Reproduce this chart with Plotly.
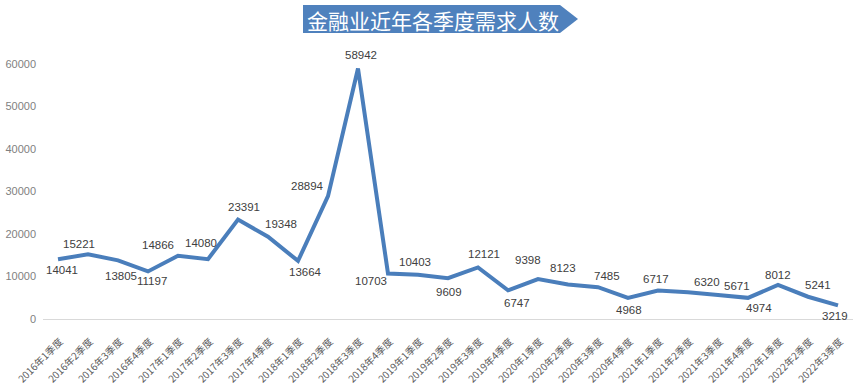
import plotly.graph_objects as go

# ---- data ----
quarters = [
    "2016年1季度", "2016年2季度", "2016年3季度", "2016年4季度",
    "2017年1季度", "2017年2季度", "2017年3季度", "2017年4季度",
    "2018年1季度", "2018年2季度", "2018年3季度", "2018年4季度",
    "2019年1季度", "2019年2季度", "2019年3季度", "2019年4季度",
    "2020年1季度", "2020年2季度", "2020年3季度", "2020年4季度",
    "2021年1季度", "2021年2季度", "2021年3季度", "2021年4季度",
    "2022年1季度", "2022年2季度", "2022年3季度",
]
demand = [
    14041, 15221, 13805, 11197,
    14866, 14080, 23391, 19348,
    13664, 28894, 58942, 10703,
    10403, 9609, 12121, 6747,
    9398, 8123, 7485, 4968,
    6717, 6320, 5671, 4974,
    8012, 5241, 3219,
]
y_ticks = [0, 10000, 20000, 30000, 40000, 50000, 60000]
y_tick_labels = ["0", "10000", "20000", "30000", "40000", "50000", "60000"]
title_text = "金融业近年各季度需求人数"

# ---- label offsets (pixels, dx right, dy down) ----
label_dx = [4, -9, 3, 4, -20, -7, 6, 13, 7, -21, 3, -17, -3, 1, 6, 9,
            -10, -5, 9, 1, -2, 19, 19, 11, 0, 10, -3]
label_dy = [11, -10, 16, 10, -11, -16, -13, -13, 11, -10, -14, 7, -13, 14, -13, 13,
            -19, -16, -11, 12, -11, -10, -9, 10, -10, -12, 11]

W, H = 858, 391
ML, MR, MT, MB = 43, 5, 64, 72
PW, PH = W - ML - MR, H - MT - MB

def px(x):
    return (x - ML) / PW

def py(y):
    return (H - MB - y) / PH

LINE_COLOR = "#4a7ebb"

fig = go.Figure()
fig.add_trace(go.Scatter(
    x=quarters, y=demand, mode="lines",
    line=dict(color=LINE_COLOR, width=4),
    hoverinfo="x+y", showlegend=False, cliponaxis=False,
))

for q, v, dx, dy in zip(quarters, demand, label_dx, label_dy):
    fig.add_annotation(
        x=q, y=v, text=str(v), showarrow=False,
        xshift=dx, yshift=-dy,
        font=dict(family="Liberation Sans, Arial", size=11.5, color="#404040"),
    )

# title banner (arrow-shaped box)
L, R, TIP, T, B = 303, 560, 578, 5, 33
M = (T + B) / 2
path = (f"M {px(L)} {py(T)} L {px(R)} {py(T)} L {px(TIP)} {py(M)} "
        f"L {px(R)} {py(B)} L {px(L)} {py(B)} Z")
fig.add_shape(type="path", path=path, xref="paper", yref="paper",
              fillcolor="#4f81bd", line=dict(width=0), layer="above")
fig.add_annotation(
    x=px(433), y=py(M + 1), xref="paper", yref="paper", showarrow=False,
    text=title_text, xanchor="center", yanchor="middle",
    font=dict(family="Noto Sans CJK SC", size=21, color="white"),
)

fig.update_layout(
    width=W, height=H,
    margin=dict(l=ML, r=MR, t=MT, b=MB, pad=0, autoexpand=False),
    paper_bgcolor="white", plot_bgcolor="white",
    xaxis=dict(
        type="category", range=[-0.5, len(quarters) - 0.5],
        showgrid=False, zeroline=False, automargin=False,
        showline=True, linecolor="#d9d9d9", linewidth=1,
        ticks="", tickangle=-45, ticklabelstandoff=12, ticklabelshift=2,
        tickfont=dict(family="Noto Sans CJK SC", size=10, color="#595959"),
    ),
    yaxis=dict(
        range=[0, 60000], tickvals=y_ticks, ticktext=y_tick_labels,
        showgrid=False, zeroline=False, showline=False, automargin=False,
        ticks="", ticklabelstandoff=6,
        tickfont=dict(family="Liberation Sans, Arial", size=11, color="#7f7f7f"),
    ),
)

fig.write_html("out.html",
               config={"displayModeBar": False},
               post_script="document.body.style.margin='0';document.body.style.overflow='hidden';")
